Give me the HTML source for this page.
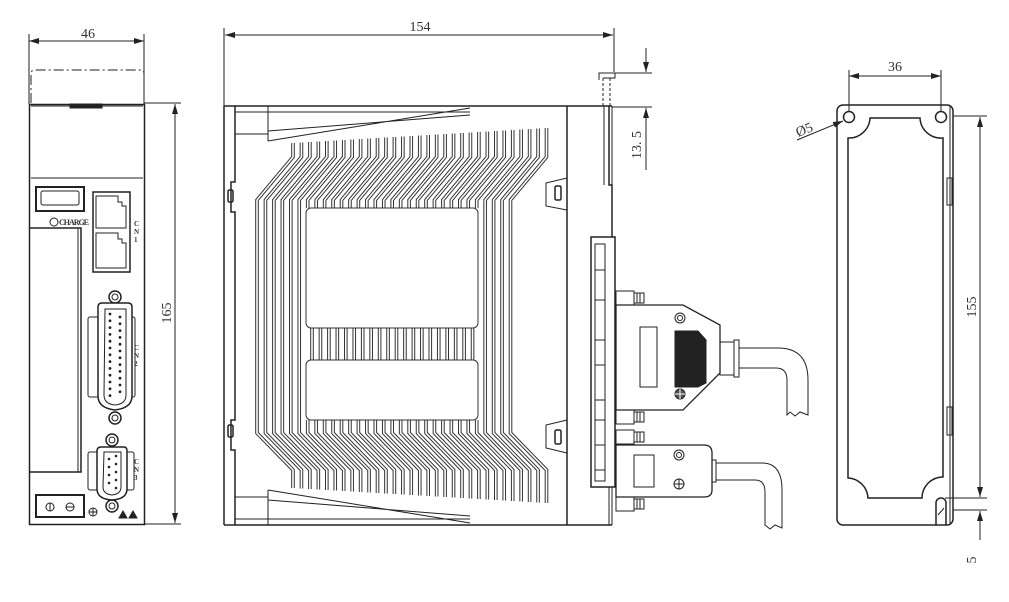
<!DOCTYPE html>
<html><head><meta charset="utf-8">
<style>
html,body{margin:0;padding:0;background:#fff;}
svg{display:block;}
text{font-family:"Liberation Serif","Noto Serif CJK SC",serif;fill:#333;}
</style></head>
<body>
<svg id="s" width="1009" height="602" viewBox="0 0 1009 602" xmlns="http://www.w3.org/2000/svg">
<defs>
<marker id="a" viewBox="0 0 10 6" refX="10" refY="3" markerWidth="10" markerHeight="6" orient="auto-start-reverse" markerUnits="userSpaceOnUse"><path d="M0,0 L10,3 L0,6 z" fill="#222"/></marker>
</defs>
<g fill="none" stroke="#222" stroke-width="1">
<!-- ===== FRONT VIEW ===== -->
<line x1="29" y1="34" x2="29" y2="104"/><line x1="144" y1="34" x2="144" y2="104"/>
<line x1="29" y1="41" x2="144" y2="41" marker-start="url(#a)" marker-end="url(#a)"/>
<path d="M31,103 V74 Q31,70 35,70 H141 Q144,70 144,74 V103" stroke-dasharray="10,3,2,3"/>
<rect x="29.5" y="104.5" width="115" height="420" stroke-width="1.5"/>
<path d="M31,106 H143 M31,178 H143"/>
<rect x="70" y="104" width="32" height="4" fill="#222"/>
<line x1="144" y1="103" x2="181" y2="103"/><line x1="144" y1="524" x2="181" y2="524"/>
<line x1="175" y1="104" x2="175" y2="523" marker-start="url(#a)" marker-end="url(#a)"/>
<rect x="36" y="187" width="48" height="24" stroke-width="2"/>
<rect x="41" y="191" width="38" height="14" rx="2"/>
<circle cx="54" cy="222" r="4"/>
<rect x="93" y="192" width="37" height="80" stroke-width="1.5"/>
<path d="M96,196 H118 V202 H122 V206 H126 V228 H96 Z"/>
<path d="M96,233 H118 V239 H122 V243 H126 V268 H96 Z"/>
<path d="M30,228 H81 V472 H30" stroke-width="1.5"/>
<line x1="78" y1="228" x2="78" y2="472"/>
<!-- CN2 -->
<rect x="88" y="317" width="47" height="80" rx="2"/>
<circle cx="115" cy="297" r="6" stroke-width="1.5"/><circle cx="115" cy="297" r="3"/>
<circle cx="115" cy="418" r="6" stroke-width="1.5"/><circle cx="115" cy="418" r="3"/>
<path d="M102,303 H128 Q132,303 132,307 V396 Q132,408 115,410 Q98,408 98,396 V307 Q98,303 102,303 Z" stroke-width="1.5" fill="#fff"/>
<path d="M105,309 H126 V395 Q126,404 115,405 Q104,404 104,395 Z"/>
<g id="cn2pins" fill="#222" stroke="none"></g>
<!-- CN3 -->
<rect x="88" y="452" width="46" height="38" rx="2"/>
<circle cx="112" cy="440" r="6" stroke-width="1.5"/><circle cx="112" cy="440" r="3"/>
<circle cx="112" cy="506" r="6" stroke-width="1.5"/><circle cx="112" cy="506" r="3"/>
<path d="M101,447 H124 Q127,447 127,451 V489 Q127,499 112,500 Q97,499 97,489 V451 Q97,447 101,447 Z" stroke-width="1.5" fill="#fff"/>
<path d="M104,452 H121 V487 Q121,494 112,495 Q103,494 103,487 Z"/>
<g fill="#222" stroke="none">
<circle cx="109" cy="459" r="1.3"/><circle cx="109" cy="467" r="1.3"/><circle cx="109" cy="475" r="1.3"/><circle cx="109" cy="483" r="1.3"/>
<circle cx="116" cy="456" r="1.3"/><circle cx="116" cy="464" r="1.3"/><circle cx="116" cy="472" r="1.3"/><circle cx="116" cy="480" r="1.3"/><circle cx="116" cy="488" r="1.3"/>
</g>
<rect x="36" y="495" width="48" height="22" stroke-width="2"/>
<circle cx="50" cy="507" r="4"/><line x1="50" y1="503" x2="50" y2="511"/>
<circle cx="70" cy="507" r="4"/><line x1="66" y1="507" x2="74" y2="507"/>
<circle cx="93" cy="512" r="4"/><path d="M89,512 H97 M93,508 V516"/>
<path d="M119,518 L123,511 L127,518 Z M129,518 L133,511 L137,518 Z" fill="#222"/>

<!-- ===== SIDE VIEW ===== -->
<line x1="224" y1="28" x2="224" y2="106"/><line x1="614" y1="28" x2="614" y2="72"/>
<line x1="225" y1="35" x2="613" y2="35" marker-start="url(#a)" marker-end="url(#a)"/>
<line x1="224" y1="106" x2="612" y2="106" stroke-width="1.5"/>
<line x1="224" y1="525" x2="612" y2="525" stroke-width="1.5"/>
<path d="M224,106 V525" stroke-width="1.5"/>
<path d="M235,106 V182 H231 V212 H235 V420 H231 V450 H235 V525" stroke-width="1.5"/>
<rect x="228" y="190" width="5" height="12" rx="1.5" stroke-width="1.5"/>
<rect x="228" y="425" width="5" height="12" rx="1.5" stroke-width="1.5"/>
<path d="M235,112 H470 M268,106 V141 M268,131 L470,115 M268,141 L470,108 M235,134 H268"/>
<path d="M235,519 H470 M268,525 V490 M268,500 L470,516 M268,490 L470,523 M235,497 H268"/>
<line x1="567" y1="106" x2="567" y2="525" stroke-width="1.5"/>
<path d="M567,178 L546,183 V206 L567,210"/><rect x="555" y="186" width="6" height="14" rx="1.5" stroke-width="1.5"/>
<path d="M567,420 L546,425 V448 L567,453"/><rect x="555" y="430" width="6" height="14" rx="1.5" stroke-width="1.5"/>
<path d="M609,106 V185 H612 V237" stroke-width="1.5"/>
<path d="M612,106 V237"/>
<path d="M591,237 H615 V487 H591 Z" stroke-width="1.5"/>
<path d="M595,244 H605 V481 H595 Z"/>
<path d="M595,270 H605 M595,300 H605 M595,340 H605 M595,365 H605 M595,400 H605 M595,420 H605 M595,445 H605 M595,470 H605"/>
<path d="M612,487 V525 M609,487 V525"/>
<!-- top tab & 13.5 -->
<path d="M599,80 V73 H615 V78 H603" />
<path d="M603,78 V106 M610,78 V106" stroke-dasharray="3,2"/>
<line x1="610" y1="73" x2="652" y2="73"/><line x1="612" y1="107" x2="652" y2="107"/>
<line x1="646" y1="48" x2="646" y2="72" marker-end="url(#a)"/>
<line x1="646" y1="170" x2="646" y2="108" marker-end="url(#a)"/>
<path d="M604,106 V185"/>
<!-- DB25 plug -->
<g id="screws"></g>
<path d="M616,305 H683 L720,325 V373 L683,410 H616 Z" stroke-width="1.3" fill="#fff"/>
<rect x="640" y="327" width="17" height="60"/>
<path d="M675,331 H698 L706,340 V383 L698,387 H675 Z" fill="#222"/>
<circle cx="680" cy="318" r="5"/><circle cx="680" cy="318" r="2.5"/>
<circle cx="680" cy="394" r="5" fill="#555"/><path d="M675,394 H685 M680,389 V399" stroke="#fff"/>
<rect x="720" y="342" width="14" height="33"/>
<rect x="734" y="340" width="5" height="37"/>
<path d="M739,348 H778 Q808,348 808,380 V415 L800,412 L795,416 L790,412 L787,415 V380 Q787,368 776,368 H739"/>
<!-- DB9 -->
<path d="M616,445 H704 Q712,445 712,453 V490 Q712,497 704,497 H616 Z" stroke-width="1.3" fill="#fff"/>
<rect x="634" y="455" width="20" height="32"/>
<circle cx="679" cy="455" r="5"/><circle cx="679" cy="455" r="2.5"/>
<circle cx="679" cy="484" r="5"/><path d="M674,484 H684 M679,479 V489"/>
<rect x="712" y="460" width="4" height="22"/>
<path d="M716,463 H762 Q782,463 782,490 V528 L775,525 L770,529 L765,525 L765,492 Q765,480 755,480 H716"/>

<!-- ===== BACK VIEW ===== -->
<line x1="849" y1="70" x2="849" y2="112"/><line x1="941" y1="70" x2="941" y2="112"/>
<line x1="849" y1="76" x2="941" y2="76" marker-start="url(#a)" marker-end="url(#a)"/>
<rect x="837" y="105" width="116" height="420" rx="6" stroke-width="1.5"/>
<path d="M870,118 H920 A21,21 0 0 0 943,138 V477 A21,21 0 0 0 922,498 H868 A21,21 0 0 0 848,478 V138 A21,21 0 0 0 870,118 Z" stroke-width="1.5"/>
<circle cx="849" cy="117" r="5.5" stroke-width="1.5"/><circle cx="941" cy="117" r="5.5" stroke-width="1.5"/>
<path d="M936,525 V503 A5,5 0 0 1 946,503 V525" stroke-width="1.5"/>
<line x1="938" y1="515" x2="944" y2="508"/>
<path d="M950,105 V525"/>
<rect x="947" y="178" width="5" height="27"/><rect x="947" y="407" width="5" height="28"/>
<line x1="953" y1="116" x2="987" y2="116"/><line x1="945" y1="498" x2="987" y2="498"/><line x1="953" y1="510" x2="987" y2="510"/>
<line x1="980" y1="117" x2="980" y2="497" marker-start="url(#a)" marker-end="url(#a)"/>
<line x1="980" y1="540" x2="980" y2="511" marker-end="url(#a)"/>
<line x1="797" y1="140" x2="843" y2="121" marker-end="url(#a)"/>
</g>
<g id="fins"></g>
<text x="88" y="38" font-size="14" text-anchor="middle">46</text>
<text transform="translate(171,313) rotate(-90)" font-size="14" text-anchor="middle">165</text>
<text x="420" y="31" font-size="14" text-anchor="middle">154</text>
<text transform="translate(641,145) rotate(-90)" font-size="14" text-anchor="middle">13. 5</text>
<text x="895" y="71" font-size="14" text-anchor="middle">36</text>
<text transform="translate(976,307) rotate(-90)" font-size="14" text-anchor="middle">155</text>
<text transform="translate(976,560) rotate(-90)" font-size="14" text-anchor="middle">5</text>
<text transform="translate(798,137) rotate(-22)" font-size="14">Ø5</text>
<text x="59" y="225" font-size="8" font-family="Liberation Sans" font-weight="bold" textLength="30">CHARGE</text>
<g font-size="7" font-family="Liberation Sans" font-weight="bold">
<text x="134" y="226">C</text><text x="134" y="234">N</text><text x="134" y="242">1</text>
<text x="134" y="350">C</text><text x="134" y="358">N</text><text x="134" y="366">2</text>
<text x="134" y="464">C</text><text x="134" y="472">N</text><text x="134" y="480">3</text>
</g>
</svg>
<script>
(function(){
var NS="http://www.w3.org/2000/svg";
function el(p,t,a){var e=document.createElementNS(NS,t);for(var k in a)e.setAttribute(k,a[k]);p.appendChild(e);return e;}
var pins=document.getElementById("cn2pins");
for(var i=0;i<13;i++){el(pins,"circle",{cx:110,cy:314+i*6.8,r:1.4});}
for(var i=0;i<12;i++){el(pins,"circle",{cx:120,cy:317+i*6.8,r:1.4});}
var f=document.getElementById("fins");
var paths=[];
var N=31;
for(var i=0;i<N;i++){
 var x=293+i*8.45, t=x-36;
 var yt=143-(i/(N-1))*15, yb=488+(i/(N-1))*15;
 var d;
 if(t<305||t>478){
  d="M"+x+","+yt+" V157 L"+t+",200 V433 L"+x+",470 V"+yb;
 } else {
  d="M"+x+","+yt+" V157 L"+t+",200 V208 M"+t+",420 V433 L"+x+",470 V"+yb;
 }
 paths.push(d);
}
for(var i=0;i<20;i++){var x=312+i*8.45;paths.push("M"+x+",328 V360");}
var D=paths.join(" ");
el(f,"path",{d:D,fill:"none",stroke:"#333","stroke-width":"3.6"});
el(f,"path",{d:D,fill:"none",stroke:"#fff","stroke-width":"1.6"});
el(f,"rect",{x:306,y:208,width:172,height:120,rx:5,fill:"none",stroke:"#333","stroke-width":"1"});
el(f,"rect",{x:306,y:360,width:172,height:60,rx:5,fill:"none",stroke:"#333","stroke-width":"1"});
var s=document.getElementById("screws");
[[291],[410],[430],[497]].forEach(function(a){
 var y=a[0];
 el(s,"rect",{x:616,y:y,width:18,height:14,fill:"none",stroke:"#222"});
 el(s,"rect",{x:634,y:y+2,width:10,height:10,fill:"none",stroke:"#222"});
 el(s,"path",{d:"M637,"+(y+2)+" V"+(y+12)+" M640,"+(y+2)+" V"+(y+12),stroke:"#222",fill:"none"});
});
})();
</script>
</body></html>
